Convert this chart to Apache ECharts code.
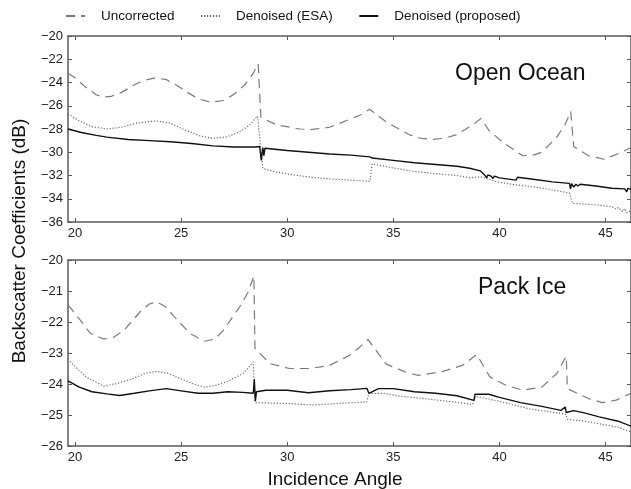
<!DOCTYPE html>
<html>
<head>
<meta charset="utf-8">
<script src="https://cdn.jsdelivr.net/npm/echarts@6/dist/echarts.min.js"></script>
<style>
  html, body { margin: 0; padding: 0; background: #fff; }
  #main { width: 631px; height: 489px; }
</style>
</head>
<body>
<div id="main"></div>
<script>
// incidence angle tick labels
var angleTicks = [20, 25, 30, 35, 40, 45];

// Open Ocean panel, [angle, dB]
var oceanUncorrected = [
  [19.67, -23.2], [20.0, -23.6], [20.5, -24.4], [21.0, -25.05], [21.3, -25.25], [21.7, -25.2],
  [22.2, -24.85], [22.7, -24.3], [23.2, -23.85], [23.8, -23.6], [24.3, -23.75], [24.8, -24.25],
  [25.3, -24.85], [25.8, -25.4], [26.4, -25.7], [27.0, -25.55], [27.5, -25.0], [28.0, -24.2],
  [28.4, -23.2], [28.63, -22.4], [28.76, -27.0], [29.5, -27.65], [30.6, -28.0], [31.1, -28.05],
  [32.0, -27.85], [32.9, -27.2], [33.5, -26.75], [33.88, -26.3], [34.67, -27.4], [35.76, -28.5],
  [36.3, -28.8], [36.85, -28.9], [37.4, -28.8], [37.96, -28.5], [38.7, -27.7], [39.13, -27.1],
  [39.5, -28.1], [40.0, -28.9], [40.45, -29.5], [41.1, -30.3], [41.6, -30.25], [42.0, -30.0],
  [42.7, -28.7], [43.1, -27.6], [43.36, -26.5], [43.5, -29.5], [44.2, -30.3], [44.93, -30.6],
  [45.63, -30.1], [46.2, -29.6]
];
var oceanEsa = [
  [19.67, -26.7], [20.2, -27.3], [20.8, -27.8], [21.5, -28.0], [22.2, -27.85], [22.9, -27.5],
  [23.8, -27.3], [24.5, -27.5], [25.2, -28.1], [25.9, -28.6], [26.5, -28.8], [27.1, -28.7],
  [27.7, -28.3], [28.2, -27.7], [28.6, -26.9], [28.85, -31.4], [29.5, -31.7], [30.5, -32.0],
  [31.4, -32.2], [32.5, -32.35], [33.9, -32.5], [34.0, -31.0], [35.0, -31.35], [36.0, -31.65],
  [37.0, -31.85], [38.0, -32.0], [38.6, -32.2], [39.1, -32.1], [40.0, -32.6], [41.0, -32.85],
  [41.9, -33.05], [43.3, -33.5], [43.45, -34.4], [44.0, -34.45], [44.7, -34.55], [45.3, -34.7],
  [45.5, -34.9], [45.6, -34.75], [45.8, -35.1], [45.9, -34.85], [46.0, -35.2], [46.2, -35.0]
];
var oceanProposed = [
  [19.67, -28.0], [20.3, -28.3], [21.0, -28.55], [21.5, -28.7], [22.5, -28.9], [23.5, -29.0],
  [24.5, -29.1], [25.5, -29.25], [26.5, -29.45], [27.5, -29.55], [28.5, -29.55], [28.7, -29.5],
  [28.78, -30.7], [28.85, -29.6], [28.9, -30.3], [28.95, -29.65], [30.0, -29.85], [31.0, -30.0],
  [32.0, -30.15], [33.0, -30.25], [33.9, -30.4], [34.0, -30.5], [35.0, -30.7], [36.0, -30.9],
  [37.0, -31.05], [38.0, -31.2], [38.6, -31.38], [39.1, -31.6], [39.3, -31.95], [39.4, -32.2],
  [39.45, -31.95], [39.6, -32.05], [39.7, -32.25], [39.76, -32.05], [40.0, -32.2], [40.78, -32.4],
  [40.85, -32.15], [41.5, -32.3], [42.5, -32.55], [43.3, -32.68], [43.35, -33.15], [43.4, -32.7],
  [43.5, -33.0], [43.6, -32.75], [43.7, -32.9], [43.8, -32.75], [44.55, -32.9], [44.6, -33.0],
  [45.3, -33.1], [45.9, -33.15], [46.0, -33.4], [46.05, -33.1], [46.2, -33.2]
];

// Pack Ice panel, [angle, dB]
var iceUncorrected = [
  [19.67, -21.45], [20.25, -21.94], [20.72, -22.37], [21.35, -22.55], [21.8, -22.5], [22.29, -22.28],
  [23.07, -21.67], [23.5, -21.42], [23.85, -21.35], [24.25, -21.5], [24.64, -21.8], [25.42, -22.37],
  [26.1, -22.62], [26.6, -22.55], [27.0, -22.26], [27.77, -21.5], [28.15, -21.05], [28.43, -20.52],
  [28.48, -22.85], [29.18, -23.34], [30.1, -23.5], [31.07, -23.5], [32.0, -23.4], [32.95, -23.07],
  [33.4, -22.82], [33.8, -22.56], [34.67, -23.36], [35.75, -23.66], [36.2, -23.72], [37.3, -23.6],
  [38.25, -23.4], [38.93, -23.05], [39.55, -23.77], [40.3, -24.04], [41.1, -24.2], [42.0, -24.1],
  [42.7, -23.66], [43.15, -23.1], [43.2, -24.15], [44.2, -24.47], [44.85, -24.6], [45.5, -24.52],
  [46.2, -24.3]
];
var iceEsa = [
  [19.67, -23.2], [20.1, -23.5], [20.56, -23.79], [21.35, -24.07], [22.0, -23.98], [22.75, -23.82],
  [23.3, -23.66], [23.85, -23.59], [24.4, -23.66], [24.95, -23.82], [25.5, -23.98], [26.1, -24.1],
  [26.6, -24.05], [27.15, -23.93], [27.93, -23.66], [28.4, -23.29], [28.48, -24.6], [30.1, -24.63],
  [31.2, -24.68], [32.5, -24.62], [33.75, -24.58], [33.85, -24.3], [34.5, -24.3], [35.3, -24.39],
  [36.7, -24.49], [38.1, -24.6], [38.73, -24.66], [38.9, -24.4], [40.0, -24.56], [41.4, -24.8],
  [42.9, -24.95], [43.13, -24.98], [43.2, -25.14], [44.0, -25.2], [44.7, -25.28], [45.6, -25.4],
  [46.2, -25.55]
];
var iceProposed = [
  [19.67, -23.9], [20.2, -24.1], [20.8, -24.25], [21.5, -24.32], [22.1, -24.37], [22.8, -24.3],
  [23.5, -24.22], [24.3, -24.15], [25.0, -24.22], [25.8, -24.3], [26.5, -24.3], [27.2, -24.25],
  [27.9, -24.27], [28.4, -24.3], [28.45, -23.85], [28.5, -24.55], [28.55, -24.25], [29.0, -24.2],
  [30.0, -24.2], [31.0, -24.28], [32.0, -24.22], [33.0, -24.18], [33.75, -24.14], [33.85, -24.3],
  [34.3, -24.15], [35.0, -24.15], [36.0, -24.25], [37.0, -24.3], [38.0, -24.38], [38.8, -24.53],
  [38.85, -24.33], [39.5, -24.33], [40.0, -24.43], [41.0, -24.6], [42.0, -24.72], [42.9, -24.85],
  [43.1, -24.74], [43.15, -24.92], [43.5, -24.86], [44.0, -24.93], [44.7, -25.06], [45.6, -25.2],
  [46.2, -25.36]
];

var seriesNames = ["Uncorrected", "Denoised (ESA)", "Denoised (proposed)"];

var font = "'Liberation Sans', Arial, Helvetica, sans-serif";
var frame = { show: true, onZero: false, lineStyle: { color: "#595959", width: 1.5 } };
var tick = { show: true, inside: true, length: 4, lineStyle: { color: "#595959", width: 1 } };
var xMin = 19.67, xMax = 46.2;

function minus(v) { return String(v).replace("-", "\u2212"); }

function xAxes(grid) {
  return [{
    type: "value", gridIndex: grid, position: "bottom", min: xMin, max: xMax,
    axisLine: frame, splitLine: { show: false },
    axisTick: Object.assign({ customValues: angleTicks }, tick),
    axisLabel: { customValues: angleTicks, margin: 5, color: "#222", fontSize: 13, fontFamily: font }
  }, {
    type: "value", gridIndex: grid, position: "top", min: xMin, max: xMax,
    axisLine: frame, splitLine: { show: false }, axisLabel: { show: false },
    axisTick: Object.assign({ customValues: angleTicks }, tick)
  }];
}

function yAxes(grid, min, max, step) {
  return [{
    type: "value", gridIndex: grid, position: "left", min: min, max: max, interval: step,
    axisLine: frame, splitLine: { show: false }, axisTick: tick,
    axisLabel: { margin: 5, color: "#222", fontSize: 13, fontFamily: font, formatter: minus }
  }, {
    type: "value", gridIndex: grid, position: "right", min: min, max: max, interval: step,
    axisLine: frame, splitLine: { show: false }, axisTick: tick, axisLabel: { show: false }
  }];
}

function lineSeries(name, data, grid, style) {
  return {
    name: name, type: "line", data: data, showSymbol: false, symbol: "none",
    color: style.color, itemStyle: { color: style.color },
    xAxisIndex: grid * 2, yAxisIndex: grid * 2, lineStyle: style, z: 3, animation: false
  };
}

var dashed = { color: "#7a7a7a", width: 1.2, type: [9, 6] };
var dotted = { color: "#6a6a6a", width: 1.2, type: [1.2, 1.8] };
var solid = { color: "#111", width: 1.4, type: "solid" };

var chart = echarts.init(document.getElementById("main"));
chart.setOption({
  animation: false,
  backgroundColor: "#fff",
  legend: {
    data: seriesNames, left: 60, top: 4, itemWidth: 19, itemHeight: 14, itemGap: 25.5,
    itemStyle: { opacity: 0 },
    textStyle: { fontSize: 13.5, color: "#111", fontFamily: font, padding: [0, 0, 0, 11] }
  },
  grid: [
    { left: 68, top: 36, width: 564, height: 186 },
    { left: 68, top: 260, width: 564, height: 186 }
  ],
  xAxis: xAxes(0).concat(xAxes(1)),
  yAxis: yAxes(0, -36, -20, 2).concat(yAxes(1, -26, -20, 1)),
  series: [
    lineSeries(seriesNames[0], oceanUncorrected, 0, dashed),
    lineSeries(seriesNames[1], oceanEsa, 0, dotted),
    lineSeries(seriesNames[2], oceanProposed, 0, solid),
    lineSeries(seriesNames[0], iceUncorrected, 1, dashed),
    lineSeries(seriesNames[1], iceEsa, 1, dotted),
    lineSeries(seriesNames[2], iceProposed, 1, solid)
  ],
  graphic: [
    { type: "text", x: 455, y: 74, style: { text: "Open Ocean", font: "23px " + font, fill: "#111", verticalAlign: "middle" } },
    { type: "text", x: 478, y: 288, style: { text: "Pack Ice", font: "23px " + font, fill: "#111", verticalAlign: "middle" } },
    { type: "text", x: 20, y: 241, rotation: Math.PI / 2, style: { text: "Backscatter Coefficients (dB)", font: "19px " + font, fill: "#111", align: "center", verticalAlign: "middle" } },
    { type: "text", x: 335, y: 480, style: { text: "Incidence Angle", font: "19px " + font, fill: "#111", align: "center", verticalAlign: "middle" } }
  ]
});
</script>
</body>
</html>
